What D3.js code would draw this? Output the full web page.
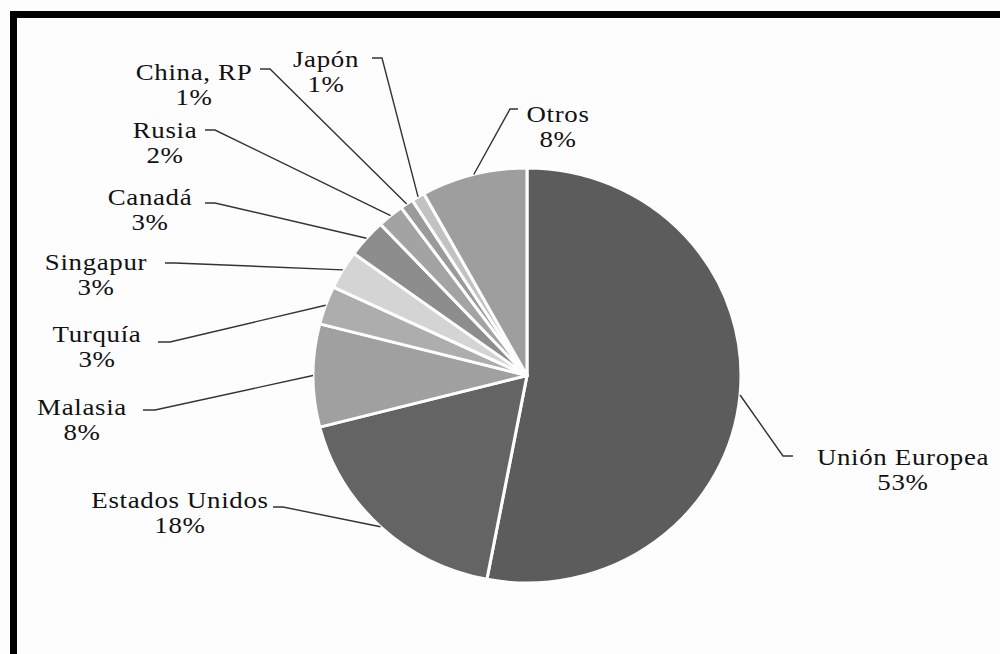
<!DOCTYPE html>
<html>
<head>
<meta charset="utf-8">
<script src="https://cdn.jsdelivr.net/npm/d3@7"></script>
<style>
  html, body { margin: 0; padding: 0; background: #fdfdfd; }
  svg { display: block; }
</style>
</head>
<body>
<svg id="chart" width="1000" height="654"></svg>
<script>
// Export destinations, share of total (%), clockwise from 12 o'clock
const categories = ["Unión Europea", "Estados Unidos", "Malasia", "Turquía", "Singapur",
                    "Canadá", "Rusia", "China, RP", "Japón", "Otros"];
const shares = [53, 18, 8, 3, 3, 3, 2, 1, 1, 8];
const sliceColors = ["#5c5c5c", "#646464", "#a0a0a0", "#adadad", "#d4d4d4",
                     "#8d8d8d", "#a3a3a3", "#9a9a9a", "#c2c2c2", "#9e9e9e"];

// Label placement: text centre x, first baseline y, elbow x, elbow y, outer end x
const labelLayout = [
  { tx: 903, ty: 465, ex: 783, ey: 456, ox: 793 },
  { tx: 180, ty: 508, ex: 283, ey: 507, ox: 273 },
  { tx: 82,  ty: 415, ex: 155, ey: 410, ox: 143 },
  { tx: 97,  ty: 342, ex: 170, ey: 342, ox: 158 },
  { tx: 96,  ty: 270, ex: 175, ey: 263, ox: 165 },
  { tx: 150, ty: 205, ex: 215, ey: 203, ox: 205 },
  { tx: 165, ty: 138, ex: 215, ey: 130, ox: 205 },
  { tx: 194, ty: 80,  ex: 270, ey: 69,  ox: 260 },
  { tx: 326, ty: 67,  ex: 382, ey: 58,  ox: 372 },
  { tx: 558, ty: 122, ex: 510, ey: 109, ox: 518 }
];

const FONT = "'Liberation Serif', 'DejaVu Serif', 'Times New Roman', serif";

const svg = d3.select("#chart");

// frame: heavy black rule along the top and the left side
svg.append("rect").attr("x", 10).attr("y", 11).attr("width", 990).attr("height", 7).attr("fill", "#000");
svg.append("rect").attr("x", 10).attr("y", 11).attr("width", 7).attr("height", 643).attr("fill", "#000");

const cx = 527, cy = 375.5, r = 210;
const sx = 214 / r, sy = 207.5 / r;

const data = categories.map((c, i) => ({ name: c, value: shares[i], color: sliceColors[i], layout: labelLayout[i] }));

const pie = d3.pie().value(d => d.value).sort(null).startAngle(0).endAngle(2 * Math.PI);
const arcs = pie(data);
const arc = d3.arc().innerRadius(0).outerRadius(r);

const g = svg.append("g").attr("transform", `translate(${cx},${cy}) scale(${sx},${sy})`);
g.selectAll("path.slice")
  .data(arcs)
  .enter().append("path")
  .attr("class", "slice")
  .attr("d", arc)
  .attr("fill", d => d.data.color)
  .attr("stroke", "#fdfdfd")
  .attr("stroke-width", 3)
  .attr("stroke-linejoin", "round");

// leader lines from the slice rim at mid-angle to each label
function rimPoint(d) {
  const a = (d.startAngle + d.endAngle) / 2;
  return [cx + Math.sin(a) * r * sx, cy - Math.cos(a) * r * sy];
}

const line = d3.line();
svg.selectAll("path.leader")
  .data(arcs)
  .enter().append("path")
  .attr("class", "leader")
  .attr("d", d => {
    const L = d.data.layout;
    return line([rimPoint(d), [L.ex, L.ey], [L.ox, L.ey]]);
  })
  .attr("fill", "none")
  .attr("stroke", "#333")
  .attr("stroke-width", 1.4);

const labels = svg.selectAll("g.label")
  .data(arcs)
  .enter().append("g")
  .attr("class", "label")
  .attr("transform", d => `translate(${d.data.layout.tx},${d.data.layout.ty}) scale(1.12,1)`);

labels.append("text")
  .attr("text-anchor", "middle")
  .attr("font-family", FONT)
  .attr("font-size", 24)
  .attr("letter-spacing", 0.6)
  .attr("fill", "#111")
  .text(d => d.data.name);

labels.append("text")
  .attr("text-anchor", "middle")
  .attr("font-family", FONT)
  .attr("font-size", 24)
  .attr("letter-spacing", 0.6)
  .attr("fill", "#111")
  .attr("y", 25)
  .text(d => d3.format(".0f")(d.data.value) + "%");
</script>
</body>
</html>
